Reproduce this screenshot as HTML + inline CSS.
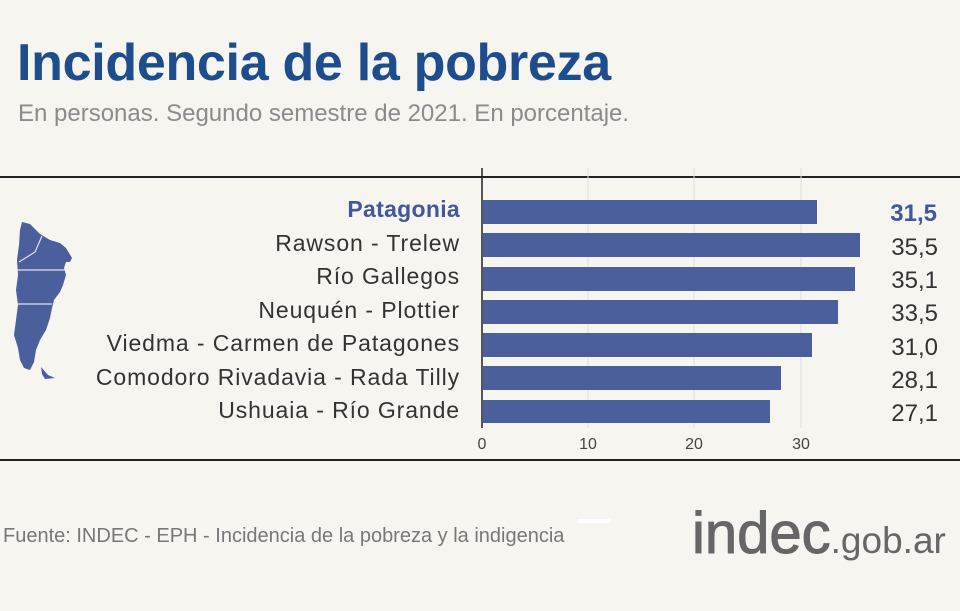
<!DOCTYPE html>
<html><head><meta charset="utf-8"><style>
body{margin:0;width:960px;height:611px;background:#f6f5ef;font-family:"Liberation Sans",sans-serif;position:relative;overflow:hidden}
.t{position:absolute;white-space:nowrap}
</style></head><body>
<div class="t" style="left:17px;top:33px;font-size:52px;font-weight:bold;color:#1d4d8c;letter-spacing:-0.3px">Incidencia de la pobreza</div>
<div class="t" style="left:18px;top:100px;font-size:24px;color:#8b8b8b">En personas. Segundo semestre de 2021. En porcentaje.</div>
<svg width="960" height="611" style="position:absolute;left:0;top:0">
<line x1="0" y1="177" x2="960" y2="177" stroke="#222" stroke-width="2"/>
<line x1="0" y1="460" x2="960" y2="460" stroke="#222" stroke-width="2"/>
<g stroke="#ddd" stroke-width="1"><line x1="588" y1="168" x2="588" y2="428"/><line x1="694" y1="168" x2="694" y2="428"/><line x1="801" y1="168" x2="801" y2="428"/></g>
<g fill="#4a5f9c">
<rect x="483" y="200" width="334" height="24"/>
<rect x="483" y="233" width="377" height="24"/>
<rect x="483" y="267" width="372" height="24"/>
<rect x="483" y="300" width="355" height="24"/>
<rect x="483" y="333" width="329" height="24"/>
<rect x="483" y="366" width="298" height="24"/>
<rect x="483" y="400" width="287" height="23"/>
</g>
<line x1="482" y1="168" x2="482" y2="428" stroke="#222" stroke-width="1.5"/>
<g font-size="16" fill="#444" text-anchor="middle" font-family="Liberation Sans"><text x="482" y="449">0</text><text x="588" y="449">10</text><text x="694" y="449">20</text><text x="801" y="449">30</text></g>
<g font-size="23" fill="#333" text-anchor="end" font-family="Liberation Sans" letter-spacing="0.9">
<text x="460" y="217" fill="#43579a" font-weight="bold" letter-spacing="0.3">Patagonia</text>
<text x="460" y="251">Rawson - Trelew</text>
<text x="460" y="284">Río Gallegos</text>
<text x="460" y="318">Neuquén - Plottier</text>
<text x="460" y="351">Viedma - Carmen de Patagones</text>
<text x="460" y="385">Comodoro Rivadavia - Rada Tilly</text>
<text x="460" y="418">Ushuaia - Río Grande</text>
</g>
<g font-size="24" fill="#333" text-anchor="end" font-family="Liberation Sans">
<text x="937" y="221" fill="#43579a" font-weight="bold">31,5</text>
<text x="938" y="255">35,5</text>
<text x="938" y="288">35,1</text>
<text x="938" y="321">33,5</text>
<text x="938" y="355">31,0</text>
<text x="938" y="388">28,1</text>
<text x="938" y="421">27,1</text>
</g>
<path fill="#4a5f9c" d="M22,222 L30,224 L40,234 L50,240 L60,243 L66,248 L72,258 L70,262 L66,262 L64,268 L66,275 L63,285 L60,292 L54,300 L52,308 L50,318 L46,330 L40,340 L36,350 L34,362 L30,370 L24,368 L20,360 L18,348 L14,335 L16,320 L18,305 L16,290 L18,275 L17,260 L19,245 L20,230Z"/>
<path fill="#4a5f9c" d="M41,367 L48,375 L55,378 L45,379 L42,374Z"/>
<g stroke="#dfe3ee" stroke-width="1.2" fill="none"><path d="M19,262 L35,252 L42,236"/><path d="M17,270 L66,270"/><path d="M18,304 L52,304"/></g>
<rect x="578" y="519" width="32" height="4" fill="#fff"/>
</svg>
<div class="t" style="left:3px;top:525px;font-size:20px;color:#777">Fuente: INDEC - EPH - Incidencia de la pobreza y la indigencia</div>
<div class="t" style="left:692px;top:500px;font-size:58px;color:#666;letter-spacing:0px;-webkit-text-stroke:1px #666">indec<span style="font-size:37px;-webkit-text-stroke:0">.gob.ar</span></div>
</body></html>
